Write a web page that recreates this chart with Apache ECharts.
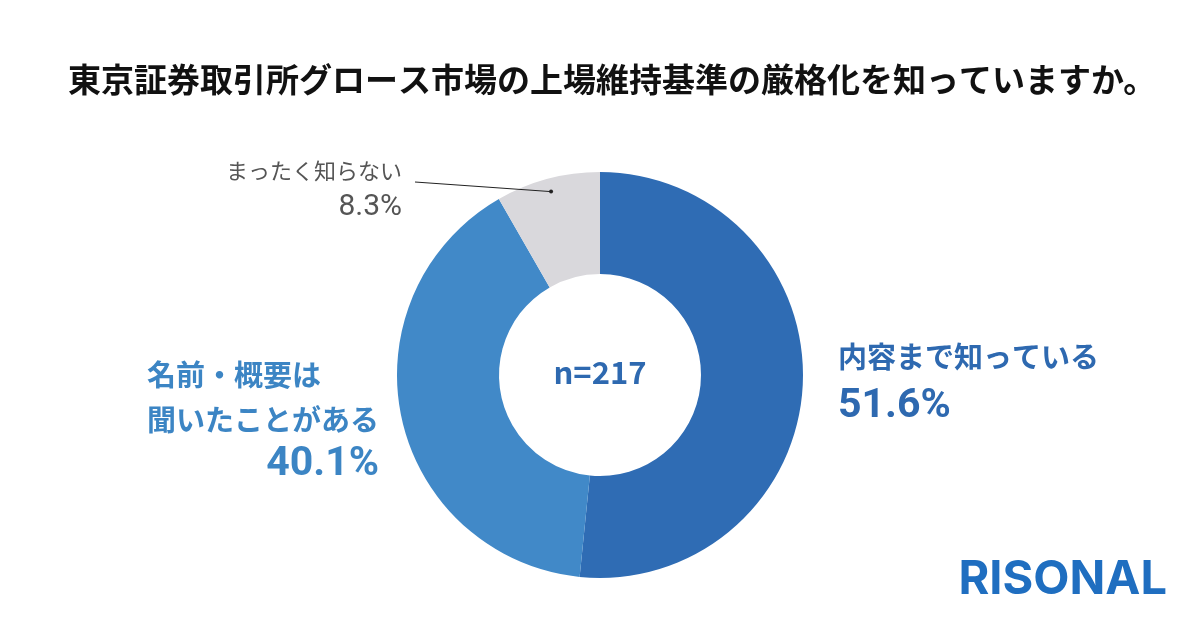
<!DOCTYPE html>
<html><head><meta charset="utf-8">
<script src="https://cdn.jsdelivr.net/npm/echarts@6/dist/echarts.min.js"></script>
<style>html,body{margin:0;padding:0;background:#fff}#c{width:1200px;height:628px}</style>
</head><body><div id="c"></div>
<script>
const titleText = '東京証券取引所グロース市場の上場維持基準の厳格化を知っていますか。';
const categories = ['内容まで知っている', '名前・概要は\n聞いたことがある', 'まったく知らない'];
const values = [51.6, 40.1, 8.3];
const sampleText = 'n=217';
const brandText = 'RISONAL';

const sliceColors = ['#2f6cb4', '#4189c8', '#d9d8dc'];
const labelColors = ['#2e69b0', '#3c85c4', '#555555'];
const FONT = '"Noto Sans CJK JP", "Noto Sans", sans-serif';
const NUMFONT = 'Roboto, "Noto Sans", sans-serif';
const CENTER = [600, 375];
const RADIUS = [101, 203];

const labelSpecs = [
  { x: 838, y: 382, align: 'left', nSize: 29, vSize: 41, lh: 50, nAlign: 'left', vAlign: 'left', w: 'bold', vw: 'bold' },
  { x: 147, y: 420, align: 'left', nSize: 29, vSize: 41, lh: 45, nAlign: 'left', vAlign: 'right', w: 'bold', vw: 'bold' },
  { x: 402, y: 189, align: 'right', nSize: 22, vSize: 30, lh: 37, nAlign: 'right', vAlign: 'right', w: 'normal', vw: 'normal' }
];

// anchor point of the leader line: mid-angle of a slice, near its outer edge
function sliceAnchor(idx, frac) {
  const total = values.reduce((a, b) => a + b, 0);
  let cum = 0;
  for (let i = 0; i < idx; i++) cum += values[i];
  const mid = (cum + values[idx] / 2) / total;
  const ang = (90 - mid * 360) * Math.PI / 180;
  const r = RADIUS[1] * frac;
  return [CENTER[0] + r * Math.cos(ang), CENTER[1] - r * Math.sin(ang)];
}
const grayAnchor = sliceAnchor(2, 0.935);
const grayLabelEnd = [labelSpecs[2].x + 13, labelSpecs[2].y - 7];

const chart = echarts.init(document.getElementById('c'), null, { renderer: 'canvas' });
chart.setOption({
  backgroundColor: '#ffffff',
  animation: false,
  title: {
    text: titleText,
    left: 63,
    top: 58,
    textStyle: { fontFamily: FONT, fontSize: 33, fontWeight: 'bold', color: '#111111' }
  },
  graphic: [
    { type: 'text', left: 'center', top: 357, style: { text: sampleText, fontFamily: FONT, fontSize: 31, fontWeight: 'bold', fill: '#2e69b0' } },
    { type: 'text', right: 33, top: 556, style: { text: brandText, fontFamily: 'Inter, Roboto, sans-serif', fontSize: 47, fontWeight: 'bold', fill: '#1f6ec0' } },
    { type: 'polyline', shape: { points: [grayLabelEnd, grayAnchor] }, style: { stroke: '#222', lineWidth: 1 }, z: 100 },
    { type: 'circle', shape: { cx: grayAnchor[0], cy: grayAnchor[1], r: 2 }, style: { fill: '#222' }, z: 100 }
  ],
  series: [{
    type: 'pie',
    center: CENTER,
    radius: RADIUS,
    startAngle: 90,
    clockwise: true,
    avoidLabelOverlap: false,
    data: categories.map((name, i) => {
      const s = labelSpecs[i];
      return {
        name: name,
        value: values[i],
        itemStyle: { color: sliceColors[i] },
        label: {
          show: true,
          position: 'outside',
          formatter: '{n|' + name.split('\n').join('}\n{n|') + '}\n{v|' + values[i].toFixed(1) + '%}',
          rich: {
            n: { fontFamily: FONT, fontSize: s.nSize, fontWeight: s.w, color: labelColors[i], lineHeight: s.lh, align: s.nAlign },
            v: { fontFamily: NUMFONT, fontSize: s.vSize, fontWeight: s.vw, color: labelColors[i], lineHeight: s.lh, align: s.vAlign }
          }
        },
        labelLine: { show: false }
      };
    }),
    labelLayout: function (params) {
      const s = labelSpecs[params.dataIndex];
      return { x: s.x, y: s.y, align: s.align, verticalAlign: 'middle' };
    },
    emphasis: { disabled: true }
  }]
});
</script></body></html>
